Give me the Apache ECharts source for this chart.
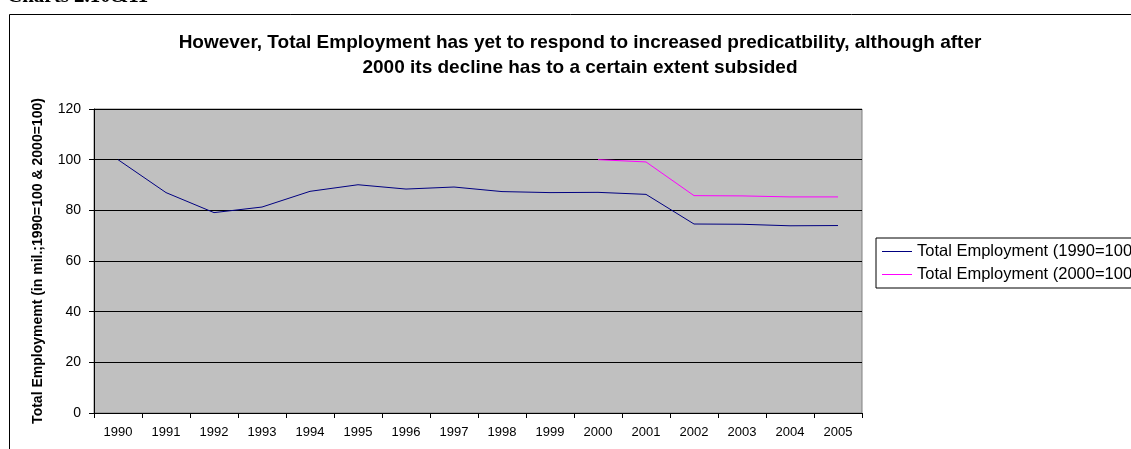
<!DOCTYPE html>
<html>
<head>
<meta charset="utf-8">
<script src="https://cdn.jsdelivr.net/npm/echarts@6/dist/echarts.min.js"></script>
<style>
html,body{margin:0;padding:0;background:#fff;}
#chart{width:1131px;height:449px;}
</style>
</head>
<body>
<div id="chart"></div>
<script>
const years = ['1990','1991','1992','1993','1994','1995','1996','1997','1998','1999','2000','2001','2002','2003','2004','2005'];
const emp1990 = [100, 87.0, 79.1, 81.3, 87.5, 90.1, 88.4, 89.2, 87.4, 87.0, 87.1, 86.3, 74.6, 74.5, 73.9, 74.0];
const emp2000 = [null, null, null, null, null, null, null, null, null, null, 100, 99.1, 85.8, 85.7, 85.3, 85.3];
const seriesNames = ['Total Employment (1990=100)', 'Total Employment (2000=100)'];
const yTicks = [0, 20, 40, 60, 80, 100, 120];

const chart = echarts.init(document.getElementById('chart'), null, {renderer:'canvas'});
const font = 'Arial, "Liberation Sans", sans-serif';
chart.setOption({
  animation:false,
  backgroundColor:'#fff',
  title:{
    text:'However, Total Employment has yet to respond to increased predicatbility, although after\n2000 its decline has to a certain extent subsided',
    left:575, top:25, textAlign:'center',
    textStyle:{fontFamily:font, fontWeight:'bold', fontSize:19, color:'#000', lineHeight:25}
  },
  graphic:[
    {type:'rect', shape:{x:9.5, y:14.5, width:1200, height:500}, style:{fill:'none', stroke:'#000', lineWidth:1}, silent:true, z:-1},
    {type:'text', x:7, y:-14, style:{text:'Charts 2.10&11', font:'bold 21px "Liberation Serif", "Times New Roman", serif', fill:'#000'}}
  ],
  legend:{
    left:876, top:238,
    orient:'vertical',
    data:seriesNames,
    icon:'rect', itemWidth:30, itemHeight:1, itemGap:4,
    borderColor:'#000', borderWidth:1, padding:[4,6,4,6],
    textStyle:{fontFamily:font, fontSize:16.5, lineHeight:19, color:'#000'}
  },
  grid:{left:94, right:269, top:109, bottom:36, show:true, backgroundColor:'#C0C0C0', borderColor:'#808080', borderWidth:1},
  xAxis:{
    type:'category', data:years, boundaryGap:true,
    axisLine:{lineStyle:{color:'#000', width:1}},
    axisTick:{show:true, alignWithLabel:false, length:5, lineStyle:{color:'#000'}},
    axisLabel:{fontFamily:font, fontSize:13, color:'#000', margin:13}
  },
  yAxis:{
    type:'value', min:yTicks[0], max:yTicks[yTicks.length-1], interval:20,
    name:'Total Employmemt (in mil.;1990=100 & 2000=100)',
    nameLocation:'middle', nameGap:49, nameRotate:90,
    nameTextStyle:{fontFamily:font, fontWeight:'bold', fontSize:14, color:'#000'},
    axisLine:{show:true, lineStyle:{color:'#000', width:1}},
    axisTick:{show:true, length:5, lineStyle:{color:'#000'}},
    axisLabel:{fontFamily:font, fontSize:14, color:'#000', margin:13},
    splitLine:{show:true, lineStyle:{color:'#000', width:1}}
  },
  series:[
    {name:seriesNames[0], type:'line', data:emp1990, showSymbol:false, symbol:'none', lineStyle:{color:'#000080', width:1}, itemStyle:{color:'#000080'}},
    {name:seriesNames[1], type:'line', data:emp2000, showSymbol:false, symbol:'none', lineStyle:{color:'#FF00FF', width:1}, itemStyle:{color:'#FF00FF'}}
  ]
});
</script>
</body>
</html>
